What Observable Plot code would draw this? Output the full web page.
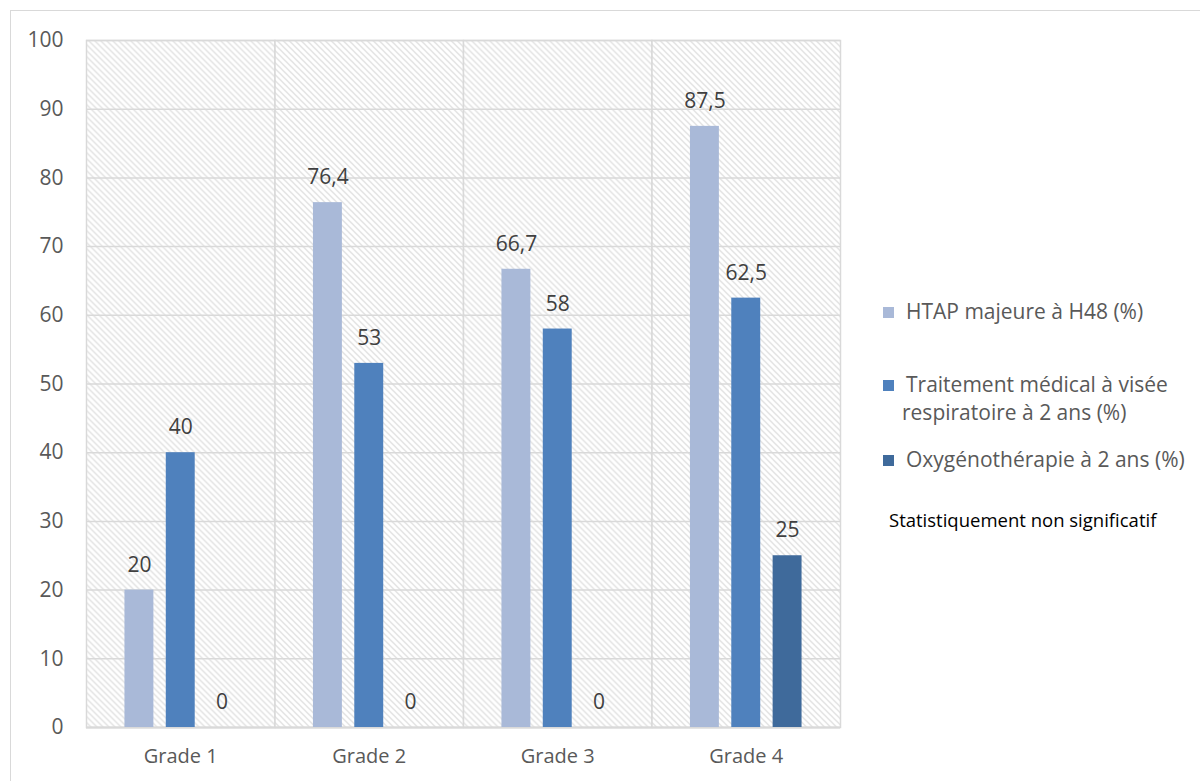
<!DOCTYPE html>
<html>
<head>
<meta charset="utf-8">
<script src="https://cdn.jsdelivr.net/npm/d3@7"></script>
<script src="https://cdn.jsdelivr.net/npm/@observablehq/plot@0.6"></script>
<style>
  html, body { margin: 0; padding: 0; background: #fff; overflow: hidden; }
  #wrap { position: relative; width: 1200px; height: 781px; font-family: 'Open Sans', 'Noto Sans', sans-serif; }
  #chart { position: absolute; left: 0; top: 0; }
  #border { position: absolute; left: 10px; top: 10px; width: 1200px; height: 800px; border: 1.5px solid #d9d9d9; pointer-events: none; }
  .leg { position: absolute; color: #595959; font-size: 21px; line-height: 28px; }
  .sw { position: absolute; width: 11px; height: 11px; }
  #note { position: absolute; left: 889px; top: 507px; font-size: 18.5px; color: #000; white-space: nowrap; }
</style>
</head>
<body>
<div id="wrap">
  <div id="chart"></div>
  <div id="legend"></div>
  <div id="note"></div>
  <div id="border"></div>
</div>
<script>
const grades = ["Grade 1", "Grade 2", "Grade 3", "Grade 4"];
const seriesNames = [
  "HTAP majeure à H48 (%)",
  "Traitement médical à visée respiratoire à 2 ans (%)",
  "Oxygénothérapie à 2 ans (%)"
];
const htap = [20, 76.4, 66.7, 87.5];
const traitement = [40, 53, 58, 62.5];
const oxygene = [0, 0, 0, 25];
const colors = ["#A9B9D8", "#4F81BD", "#3F6A9B"];
const yTicks = [0, 10, 20, 30, 40, 50, 60, 70, 80, 90, 100];
const noteText = "Statistiquement non significatif";

const seriesValues = [htap, traitement, oxygene];
const data = [];
grades.forEach((g, i) => {
  seriesNames.forEach((s, j) => {
    data.push({grade: g, series: s, value: seriesValues[j][i]});
  });
});
const fmt = v => String(v).replace(".", ",");

const chart = Plot.plot({
  width: 1200,
  height: 781,
  marginLeft: 86,
  marginRight: 360,
  marginTop: 40,
  marginBottom: 54,
  style: {fontFamily: "'Open Sans', 'Noto Sans', sans-serif", fontSize: "20px", color: "#595959", background: "transparent", overflow: "visible"},
  fx: {domain: grades, padding: 0, round: false, label: null},
  x: {domain: seriesNames, axis: null, paddingInner: 0.3, paddingOuter: 0.93, round: false},
  y: {domain: [0, 100], label: null},
  color: {domain: seriesNames, range: colors},
  marks: [
    Plot.frame({fill: "url(#hatch)", stroke: "#d9d9d9", strokeWidth: 1.5}),
    Plot.gridY(yTicks, {stroke: "#d9d9d9", strokeOpacity: 1, strokeWidth: 1.5}),
    Plot.ruleY([0], {stroke: "#d9d9d9", strokeWidth: 2}),
    Plot.barY(data, {fx: "grade", x: "series", y: "value", fill: "series"}),
    Plot.text(data, {fx: "grade", x: "series", y: "value", text: d => fmt(d.value), dy: -25, lineAnchor: "middle", fill: "#404040", fontSize: 21}),
    Plot.axisY({ticks: yTicks, tickSize: 0, tickPadding: 23, fill: "#595959", fontSize: 21, label: null}),
    Plot.axisFx({anchor: "bottom", tickSize: 0, tickPadding: 21, fill: "#595959", fontSize: 20, label: null})
  ]
});

// hatch pattern for plot background
const defs = d3.select(chart).insert("defs", ":first-child");
const pat = defs.append("pattern")
  .attr("id", "hatch")
  .attr("patternUnits", "userSpaceOnUse")
  .attr("width", 6).attr("height", 6);
pat.append("rect").attr("width", 6).attr("height", 6).attr("fill", "#ffffff");
pat.append("path")
  .attr("d", "M-1,-1 L7,7 M-1,5 L1,7 M5,-1 L7,1")
  .attr("stroke", "#d8d8d8")
  .attr("stroke-width", 1.1);

document.getElementById("chart").appendChild(chart);

// legend
const legend = document.getElementById("legend");
const legPos = [
  {sy: 307, ty: 298, lines: ["HTAP majeure à H48 (%)"]},
  {sy: 380, ty: 371, lines: ["Traitement médical à visée", "respiratoire à 2 ans (%)"]},
  {sy: 455, ty: 446, lines: ["Oxygénothérapie à 2 ans (%)"]}
];
legPos.forEach((p, i) => {
  const sw = document.createElement("div");
  sw.className = "sw";
  sw.style.left = "883px";
  sw.style.top = p.sy + "px";
  sw.style.background = colors[i];
  legend.appendChild(sw);
  p.lines.forEach((ln, k) => {
    const t = document.createElement("div");
    t.className = "leg";
    t.style.left = (k === 0 ? 906 : 902) + "px";
    t.style.top = (p.ty + k * 28 - 1) + "px";
    t.style.whiteSpace = "nowrap";
    t.textContent = ln;
    legend.appendChild(t);
  });
});
document.getElementById("note").textContent = noteText;
</script>
</body>
</html>
